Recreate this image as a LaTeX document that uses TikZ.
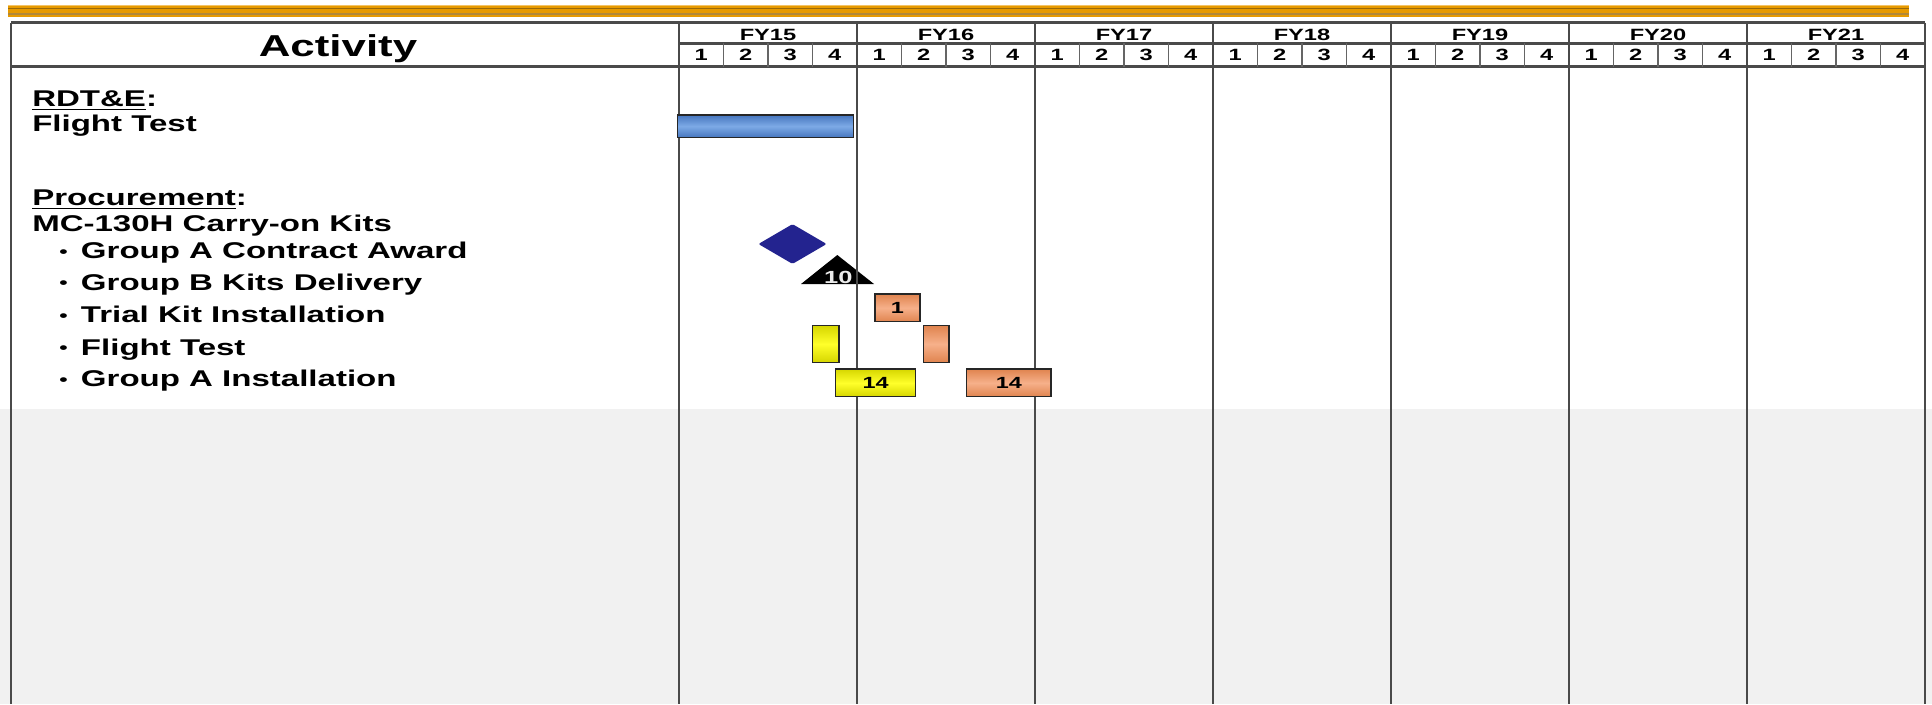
\documentclass[tikz,border=0pt]{standalone}
\usepackage{fontspec}
\setmainfont{Liberation Sans}[FakeStretch=1.45]
\usepackage{tikz}
\usetikzlibrary{positioning,shapes.geometric}

\definecolor{topbar}{HTML}{E79A00}
\definecolor{topbardark}{HTML}{9C6A08}
\definecolor{topbarlight}{HTML}{F4C466}
\definecolor{band}{HTML}{F1F1F1}
\definecolor{rulegray}{HTML}{4A4A4A}
\definecolor{milestone}{HTML}{23238F}
\definecolor{blueA}{HTML}{4676BE}
\definecolor{blueB}{HTML}{7DAAE6}
\definecolor{salmonA}{HTML}{E0844F}
\definecolor{salmonB}{HTML}{F6B08A}
\definecolor{yellowA}{HTML}{D6D600}
\definecolor{yellowB}{HTML}{FFFF2A}

\begin{document}
\begin{tikzpicture}[
    x=0.25mm, y=-0.25mm,
    txt/.style={anchor=base west, inner sep=0pt, font=\fontsize{16.2}{19}\selectfont\bfseries},
    hdr/.style={anchor=base, inner sep=0pt, font=\fontsize{11.6}{13}\selectfont\bfseries},
    gridln/.style={draw=rulegray, line width=0.65mm},
    qline/.style={draw=rulegray!85, line width=0.45mm},
    bar/.style={draw=black!85, line width=0.35mm, inner sep=0pt, font=\fontsize{11.5}{13}\selectfont\bfseries},
    bluebar/.style={bar, top color=blueA, bottom color=blueA, middle color=blueB},
    salmonbar/.style={bar, top color=salmonA, bottom color=salmonA, middle color=salmonB},
    yellowbar/.style={bar, top color=yellowA, bottom color=yellowA, middle color=yellowB}
]
\useasboundingbox (0,0) rectangle (1932,704);
\fill[white] (0,0) rectangle (1932,704);
\fill[band] (0,409) rectangle (1932,704);

% title rule
\fill[topbar] (8,4.7) rectangle (1909,16.7);
\fill[topbarlight] (8,4.7) rectangle (1909,6.3);
\fill[topbardark] (8,7.6) rectangle (1909,9.4);
\fill[topbardark!80] (8,13.2) rectangle (1909,14.6);

% milestone drawn under the grid
\coordinate (triapex) at (837.3,255);
\coordinate (trileft) at (801,284);
\coordinate (triright) at (874,284);
\fill[black] (triapex) -- (triright) -- (trileft) -- cycle;

% table
\draw[gridln] (11,22.7) -- (1925,22.7);
\draw[gridln] (679,43.3) -- (1925,43.3);
\draw[gridln] (11,66.7) -- (1925,66.7);
\draw[gridln] (11,22.7) -- (11,704);
\draw[gridln] (1925,22.7) -- (1925,704);
\foreach \k/\fy in {0/15,1/16,2/17,3/18,4/19,5/20,6/21} {
  \draw[gridln] (679+178*\k,22.7) -- (679+178*\k,704);
  \node[hdr] (fy\fy) at (768+178*\k,40) {FY\fy};
  \foreach \q in {1,2,3,4} {
    \node[hdr] (q\fy-\q) at (679+178*\k+44.5*\q-22.25,60) {\q};
  }
  \foreach \q in {1,2,3} {
    \draw[qline] (679+178*\k+44.5*\q,43.3) -- (679+178*\k+44.5*\q,66.7);
  }
}
\node[anchor=base, inner sep=0pt, font=\fontsize{21.5}{24}\selectfont\bfseries] (activity) at (338,56) {Activity};

% activities
\node[txt] (rdte) at (32,106.7) {\underline{RDT\&E}:};
\node[txt] (rdteflt) at (32,131.7) {Flight Test};
\node[txt] (proc) at (32,205.7) {\underline{Procurement}:};
\node[txt] (kits) at (32,231.7) {MC-130H Carry-on Kits};
\foreach \y/\t [count=\i] in {258.3/Group A Contract Award, 290/Group B Kits Delivery,
    322.3/Trial Kit Installation, 355/Flight Test, 386.7/Group A Installation} {
  \node[txt] (item\i) at (59,\y) {\raisebox{0.8pt}{\scalebox{0.72}{\textbullet}}\hspace{9.5pt}\t};
}

% schedule
\node[bluebar, minimum width=44mm, minimum height=5.6mm] (fltbar) at (765.3,126.2) {};
\node[diamond, fill=milestone, rounded corners=1pt, inner sep=0pt, minimum width=17.1mm, minimum height=10mm] (award) at (792.5,244) {};
\node[inner sep=0pt, text=white!85!gray, font=\fontsize{12.5}{14}\selectfont\bfseries] (deliv) at (838.3,277.5) {10};
\node[salmonbar, minimum width=11.25mm, minimum height=6.9mm] (trial) at (897.5,307.9) {1};
\node[yellowbar, minimum width=6.6mm, minimum height=9.15mm] (ftA) at (825.9,344) {};
\node[salmonbar, minimum width=6.4mm, minimum height=9.15mm] (ftB) at (936.2,344) {};
\node[yellowbar, minimum width=20mm, minimum height=6.9mm] (instA) at (875.7,382.9) {14};
\node[salmonbar, minimum width=21.1mm, minimum height=6.9mm] (instB) at (1008.9,382.9) {14};
\end{tikzpicture}
\end{document}
